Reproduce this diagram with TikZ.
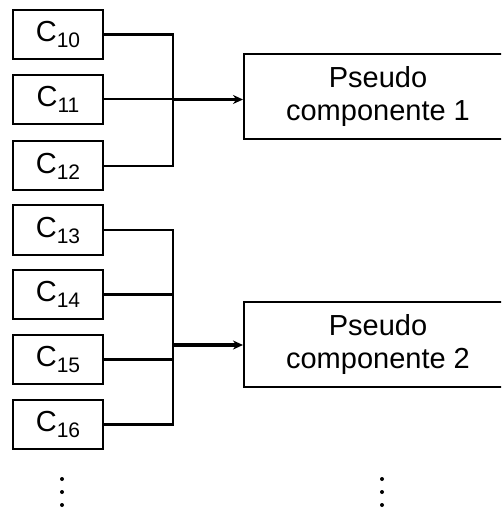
\documentclass[tikz,border=0pt]{standalone}
\usepackage{fontspec}
\setmainfont{Liberation Sans}
\usetikzlibrary{arrows.meta}

% component label with a lowered index
\newcommand{\csub}[1]{C\raisebox{-6pt}{\fontsize{21}{21}\selectfont #1}}

\begin{document}
\begin{tikzpicture}[x=1pt,y=-1pt,
	comp/.style={draw,line width=2pt,minimum width=90pt,minimum height=49pt,inner sep=0pt,font=\fontsize{29}{33}\selectfont},
	pseudo/.style={draw,line width=2pt,minimum width=268pt,minimum height=85pt,inner sep=0pt,align=center,font=\fontsize{29}{33}\selectfont},
	bus/.style={line width=2.4pt},
	feed/.style={line width=3.2pt,-{Stealth[length=10pt,width=9pt]}}]
			\clip (0,0) rectangle (501,510);
			% first group
			\node[comp] (c10) at (58,34.5) {\csub{10}};
			\node[comp] (c11) at (58,99.5) {\csub{11}};
			\node[comp] (c12) at (58,166) {\csub{12}};
			\node[pseudo] (p1) at (378,96.5) {Pseudo\\componente 1};
			\coordinate (j1) at (173,99.5);
			\draw[bus] (c10.east) -| (j1) |- (c12.east);
			\draw[line width=2pt] (c11.east) -- (j1);
			\draw[feed] (j1) -- (j1 -| p1.west);
			% second group
			\node[comp] (c13) at (58,230) {\csub{13}};
			\node[comp] (c14) at (58,294.5) {\csub{14}};
			\node[comp] (c15) at (58,359.5) {\csub{15}};
			\node[comp] (c16) at (58,424.5) {\csub{16}};
			\node[pseudo] (p2) at (378,344.5) {Pseudo\\componente 2};
			\coordinate (j2) at (173,345);
			\draw[bus] (c13.east) -| (j2) |- (c16.east);
			\draw[bus] (c14.east) -- (c14.east -| j2);
			\draw[bus] (c15.east) -- (c15.east -| j2);
			\draw[feed] (j2) -- (j2 -| p2.west);
			% more to follow
			\foreach \y in {479,492,505} {
				\fill (62,\y) circle (2);
				\fill (382,\y) circle (2);
			}
		\end{tikzpicture}
\end{document}
